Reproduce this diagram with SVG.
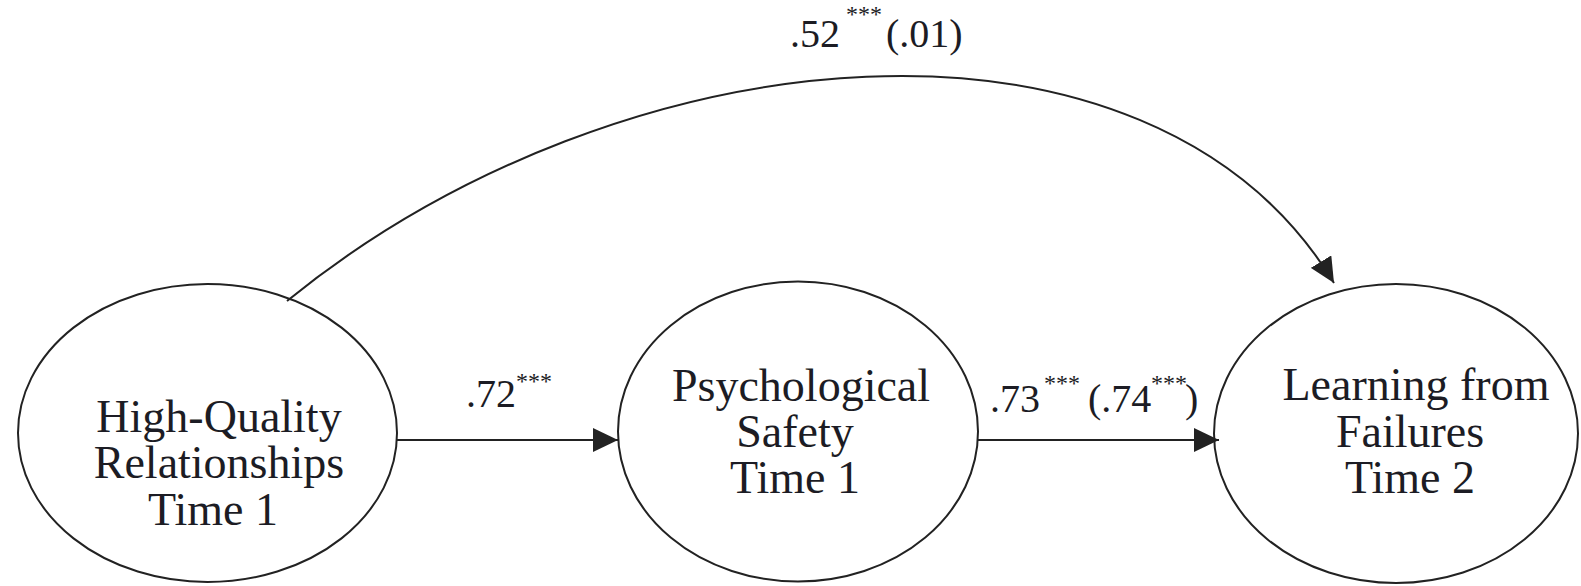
<svg xmlns="http://www.w3.org/2000/svg" width="1581" height="586" viewBox="0 0 1581 586">
<style>
.node{fill:#fff;stroke:#222;stroke-width:2}
.conn{fill:none;stroke:#222;stroke-width:2}
.t{font-family:"Liberation Serif","Times New Roman",serif;font-size:46px;fill:#1c1c24;text-anchor:middle}
.lab{font-family:"Liberation Serif","Times New Roman",serif;font-size:40px;fill:#1c1c24}
.sup{font-family:"Liberation Serif","Times New Roman",serif;font-size:24px;fill:#1c1c24}
</style>
<defs>
<marker id="ah" markerUnits="userSpaceOnUse" markerWidth="26" markerHeight="24" refX="25" refY="12" orient="auto">
<path d="M0,0 L25,12 L0,24 z" fill="#222"/>
</marker>
</defs>
<rect width="1581" height="586" fill="#fff"/>
<g id="n1">
<ellipse class="node" cx="207.5" cy="433" rx="189.5" ry="149"/>
<text class="t" x="219" y="432">High-Quality</text>
<text class="t" x="219" y="478">Relationships</text>
<text class="t" x="213" y="525">Time 1</text>
</g>
<g id="n2">
<ellipse class="node" cx="798" cy="431.5" rx="180" ry="150"/>
<text class="t" x="801" y="401">Psychological</text>
<text class="t" x="795" y="447">Safety</text>
<text class="t" x="795" y="493">Time 1</text>
</g>
<g id="n3">
<ellipse class="node" cx="1396" cy="433.5" rx="182" ry="149.5"/>
<text class="t" x="1416" y="400">Learning from</text>
<text class="t" x="1410" y="447">Failures</text>
<text class="t" x="1410" y="493">Time 2</text>
</g>
<g id="connectors">
<line class="conn" x1="397" y1="440" x2="618" y2="440" marker-end="url(#ah)"/>
<line class="conn" x1="978" y1="440" x2="1219" y2="440" marker-end="url(#ah)"/>
<path class="conn" d="M287,301 C620,30 1150,-20 1334,283" marker-end="url(#ah)"/>
</g>
<g id="labels">
<text class="lab" x="466" y="407">.72</text>
<text class="sup" x="516" y="389">***</text>
<text class="lab" x="790" y="47">.52</text>
<text class="sup" x="846" y="22">***</text>
<text class="lab" x="886" y="47">(.01)</text>
<text class="lab" x="990" y="412">.73</text>
<text class="sup" x="1044" y="391">***</text>
<text class="lab" x="1088" y="412">(.74</text>
<text class="sup" x="1151" y="391">***</text>
<text class="lab" x="1185" y="412">)</text>
</g>
</svg>
